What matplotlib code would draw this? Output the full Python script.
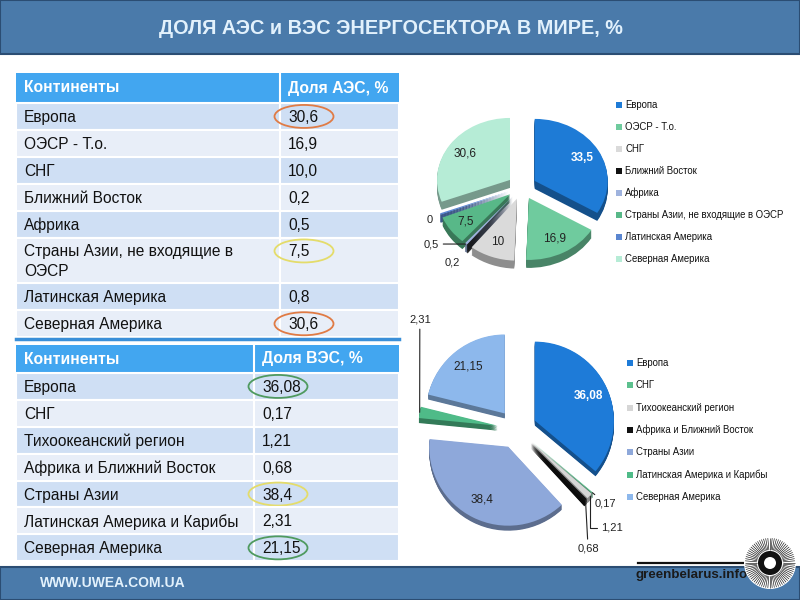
import textwrap

import numpy as np
import matplotlib

matplotlib.use("Agg")
import matplotlib.pyplot as plt
from matplotlib import font_manager
from matplotlib.collections import LineCollection
from matplotlib.patches import Circle, Ellipse, Rectangle

W, H = 800, 600

# --- data ---------------------------------------------------------------
aes_regions = ["Европа", "ОЭСР - Т.о.", "СНГ", "Ближний Восток", "Африка",
               "Страны Азии, не входящие в ОЭСР", "Латинская Америка",
               "Северная Америка"]
aes_table = [30.6, 16.9, 10.0, 0.2, 0.5, 7.5, 0.8, 30.6]
aes_pie = [33.5, 16.9, 10.0, 0.2, 0.5, 7.5, 0.4, 30.6]
aes_pie_labels = ["33,5", "16,9", "10", "0,2", "0,5", "7,5", "0", "30,6"]
aes_marks = {0: "#e07b45", 5: "#e4dc6a", 7: "#e07b45"}

ves_regions = ["Европа", "СНГ", "Тихоокеанский регион", "Африка и Ближний Восток",
               "Страны Азии", "Латинская Америка и Карибы", "Северная Америка"]
ves_table = [36.08, 0.17, 1.21, 0.68, 38.4, 2.31, 21.15]
ves_pie = [36.08, 0.17, 1.21, 0.68, 38.4, 2.31, 21.15]
ves_marks = {0: "#4f9a5f", 4: "#e4dc6a", 6: "#4f9a5f"}

aes_colors = ["#1e7bd6", "#6fcb9e", "#dadada", "#111111", "#9fb3de",
              "#58b888", "#5a86d0", "#b6ecd6"]
ves_colors = ["#1e7bd8", "#5cc08e", "#d6d6d6", "#111111", "#8ea8da",
              "#4fbb88", "#8db8ec"]

# --- fonts ----------------------------------------------------------------
plt.rcParams["font.family"] = ["Liberation Sans", "DejaVu Sans"]
_names = {f.name for f in font_manager.fontManager.ttflist}
NARROW = "Liberation Sans Narrow" if "Liberation Sans Narrow" in _names else "Liberation Sans"
LEG_FS = 8 if NARROW.endswith("Narrow") else 6.9

BANNER = "#4a7aaa"
BANNER_EDGE = "#2b4d73"
HEAD = "#42a6f0"
ROW_DARK = "#cfdff4"
ROW_LIGHT = "#e8eef8"

fig = plt.figure(figsize=(W / 100, H / 100), dpi=100)
bg = fig.add_axes([0, 0, 1, 1])
bg.set_xlim(0, W)
bg.set_ylim(H, 0)
bg.axis("off")

# banners
bg.add_patch(Rectangle((0, 0), W, 54, fc=BANNER, ec=BANNER_EDGE, lw=1.5))
bg.text(W / 2 - 9, 28, "ДОЛЯ АЭС и ВЭС ЭНЕРГОСЕКТОРА В МИРЕ, %", ha="center", va="center",
        fontsize=14.3, fontweight="bold", color="#e2f1fc")
bg.add_patch(Rectangle((0, 567), W, 33, fc=BANNER, ec=BANNER_EDGE, lw=1.5))
bg.text(40, 583, "WWW.UWEA.COM.UA", ha="left", va="center", fontsize=10,
        fontweight="bold", color="#e2f1fc")


def draw_table(top, head_h, split, head2, labels, values, fmt, marks):
    x0, x1 = 16, 399
    row_h, extra = 26.9, 19
    bg.add_patch(Rectangle((x0, top), x1 - x0, head_h, fc=HEAD, ec="none"))
    bg.plot([split, split], [top, top + head_h], color="white", lw=1.5)
    bg.text(x0 + 8, top + head_h / 2, "Континенты", ha="left", va="center",
            fontsize=11.3, fontweight="bold", color="white")
    bg.text(split + 8, top + head_h / 2, head2, ha="left", va="center",
            fontsize=11.3, fontweight="bold", color="white")
    y = top + head_h
    for i, (lab, val) in enumerate(zip(labels, values)):
        text = textwrap.fill(lab, 27)
        h = row_h + extra * text.count("\n")
        fc = ROW_DARK if i % 2 == 0 else ROW_LIGHT
        bg.add_patch(Rectangle((x0, y), split - x0, h, fc=fc, ec="white", lw=1.5))
        bg.add_patch(Rectangle((split, y), x1 - split, h, fc=fc, ec="white", lw=1.5))
        bg.text(x0 + 8, y + h / 2 + 1, text, ha="left", va="center", fontsize=11.2,
                color="#111111", linespacing=1.4)
        vy = y + row_h / 2 + 1
        bg.text(split + 8, vy, fmt(val), ha="left", va="center", fontsize=11.2,
                color="#111111")
        if i in marks:
            bg.add_patch(Ellipse((split + 24, vy - 1), 59, 23, fc="none",
                                 ec=marks[i], lw=1.3))
        y += h
    return y


end1 = draw_table(73, 30, 280, "Доля АЭС, %", aes_regions, aes_table,
                  lambda v: f"{v:.1f}".replace(".", ","), aes_marks)
bg.plot([16, 399], [end1 + 1.5, end1 + 1.5], color="#3a8fd8", lw=2.5)
draw_table(345, 28, 254, "Доля ВЭС, %", ves_regions, ves_table,
           lambda v: f"{v:g}".replace(".", ","), ves_marks)


def darken(c, k=0.65):
    r, g, b = matplotlib.colors.to_rgb(c)
    return (r * k, g * k, b * k)


def pie_3d(cx, cy, rx, ry, values, colors, explode, depth, half=1.6):
    w, h = 2 * half * rx, 2 * half * ry
    ax = fig.add_axes([(cx - w / 2) / W, 1 - (cy + h / 2) / H, w / W, h / H])
    ex = [explode] * len(values)
    side = [darken(c) for c in colors]
    for d in np.linspace(depth / ry, 0, 9)[:-1]:
        ax.pie(values, explode=ex, colors=side, startangle=90, counterclock=False,
               center=(0, -d), wedgeprops=dict(linewidth=0))
    wedges, _ = ax.pie(values, explode=ex, colors=colors, startangle=90,
                       counterclock=False, wedgeprops=dict(linewidth=0))
    ax.set_xlim(-half, half)
    ax.set_ylim(-half, half)
    ax.set_aspect("auto")
    ax.axis("off")
    return ax, wedges


def mid_point(w, dist):
    a = np.deg2rad((w.theta1 + w.theta2) / 2)
    return w.center[0] + dist * np.cos(a), w.center[1] + dist * np.sin(a)


def label_pie(ax, wedges, labels, values, small):
    for i, (w, lab, v) in enumerate(zip(wedges, labels, values)):
        if i in small:
            pos, line = small[i]
            if line is None:
                ax.text(*pos, lab, ha="center", va="center", fontsize=8, color="#222222")
            else:
                ax.annotate(lab, xy=mid_point(w, 1.0), xytext=pos, ha="center",
                            va="center", fontsize=8, color="#222222",
                            arrowprops=dict(arrowstyle="-", color="#222222", lw=0.8,
                                            shrinkA=1, shrinkB=0,
                                            connectionstyle=line))
        else:
            white = i == 0
            ax.text(*mid_point(w, 0.75), lab, ha="center", va="center", fontsize=8.5,
                    color="white" if white else "#222222",
                    fontweight="bold" if white else "normal")


# --- top pie (АЭС) ---------------------------------------------------------
ax1, w1 = pie_3d(522, 187, 73, 62, aes_pie, aes_colors, 0.2, 8)
label_pie(ax1, w1, aes_pie_labels, aes_pie, {
    3: ((-0.95, -1.22), None),
    4: ((-1.24, -0.92), "arc3"),
    6: ((-1.27, -0.53), None),
})

# --- bottom pie (ВЭС) ------------------------------------------------------
ves_labels = [f"{v:g}".replace(".", ",") for v in ves_pie]
ax2, w2 = pie_3d(517, 429, 79, 79, ves_pie, ves_colors, 0.25, 5)
label_pie(ax2, w2, ves_labels, ves_pie, {
    1: ((1.12, -0.94), "arc3"),
    2: ((1.2, -1.25), "angle,angleA=0,angleB=90"),
    3: ((0.9, -1.51), "arc3"),
    5: ((-1.23, 1.38), "arc3"),
})


def draw_legend(x, y0, dy, names, colors):
    for i, (n, c) in enumerate(zip(names, colors)):
        y = y0 + i * dy
        bg.scatter([x], [y], marker="s", s=14, color=c, linewidths=0)
        bg.text(x + 6, y, n, ha="left", va="center", fontsize=LEG_FS,
                family=NARROW, color="#111111")


draw_legend(619, 105, 22, aes_regions, aes_colors)
draw_legend(630, 363, 22.3, ves_regions, ves_colors)

# --- logo -----------------------------------------------------------------
bg.plot([638, 753], [563, 563], color="#111111", lw=1.6)
bg.text(692, 575, "greenbelarus.info", ha="center", va="center", fontsize=9.6,
        family=NARROW, fontweight="bold", color="#1a1a1a")
lx, ly = 770, 563
bg.add_patch(Circle((lx, ly), 26, fc="white", ec="none", zorder=3))
ang = np.linspace(0, 2 * np.pi, 72, endpoint=False)
rays = [[(lx + 13 * np.cos(a), ly + 13 * np.sin(a)),
         (lx + 25 * np.cos(a), ly + 25 * np.sin(a))] for a in ang]
bg.add_collection(LineCollection(rays, colors="#111111", lw=0.45, zorder=4))
bg.add_patch(Circle((lx, ly), 12, fc="#111111", ec="none", zorder=5))
bg.add_patch(Circle((lx, ly), 6, fc="white", ec="none", zorder=6))

fig.savefig("out.png", dpi=100)
